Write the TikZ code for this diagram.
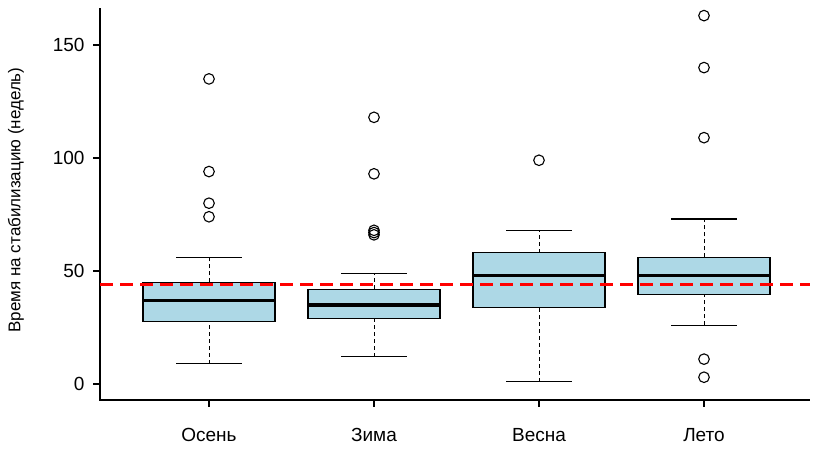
\documentclass[tikz,border=0pt]{standalone}
\usepackage{fontspec}
\setmainfont{Liberation Sans}
\begin{document}
\begin{tikzpicture}[x=1pt,y=-1pt,
  boxfill/.style={draw=black, fill=boxblue, line width=1.1pt},
  whisk/.style={dash pattern=on 4pt off 3pt, line width=1pt},
  capline/.style={line width=1.1pt},
  outl/.style={draw=black, line width=1.1pt},
  axisline/.style={line width=1.1pt},
  ticklab/.style={font=\fontsize{19}{22}\selectfont}]
\definecolor{boxblue}{RGB}{173,216,230}
\useasboundingbox (0,0) rectangle (820,461);
% y value v maps to pixel 384-2.26*v
\def\yv#1{384-2.26*#1}
% axes
\draw[axisline] (100,8) -- (100,400) -- (810,400);
\foreach \v in {0,50,100,150}{
  \draw[axisline] (93,{\yv{\v}}) -- (100,{\yv{\v}});
  \node[anchor=east, ticklab] (tick\v) at (88,{\yv{\v}}) {\v};
}
\node[rotate=90, font=\fontsize{17}{20}\selectfont] (ylab) at (16,200) {Время на стабилизацию (недель)};
% boxes: center / low / q1 / median / q3 / high / label
\foreach \c/\lo/\qa/\me/\qb/\hi/\lab in {
  209/9/27.5/37/45/56/Осень,
  374/12/29/35/42/49/Зима,
  539/1/34/48/58/68/Весна,
  704/26/39.5/48/56/73/Лето}{
  \draw[whisk] (\c,{\yv{\lo}}) -- (\c,{\yv{\qa}});
  \draw[whisk] (\c,{\yv{\qb}}) -- (\c,{\yv{\hi}});
  \draw[capline] (\c-33,{\yv{\lo}}) -- (\c+33,{\yv{\lo}});
  \draw[capline] (\c-33,{\yv{\hi}}) -- (\c+33,{\yv{\hi}});
  \draw[boxfill] (\c-66,{\yv{\qa}}) rectangle (\c+66,{\yv{\qb}});
  \draw[line width=3.2pt] (\c-66,{\yv{\me}}) -- (\c+66,{\yv{\me}});
  \draw[axisline] (\c,400) -- (\c,407);
  \node[ticklab] (lab\lab) at (\c,435) {\lab};
}
% outliers
\foreach \c/\v in {209/135, 209/94, 209/80, 209/74,
  374/118, 374/93, 374/68, 374/67, 374/66,
  539/99,
  704/163, 704/140, 704/109, 704/11, 704/3}{
  \draw[outl] (\c,{\yv{\v}}) circle (5.3);
}
% mean line
\draw[red, dash pattern=on 13pt off 7pt, line width=2.2pt] (100,{\yv{44}}) -- (810,{\yv{44}});
\end{tikzpicture}
\end{document}
